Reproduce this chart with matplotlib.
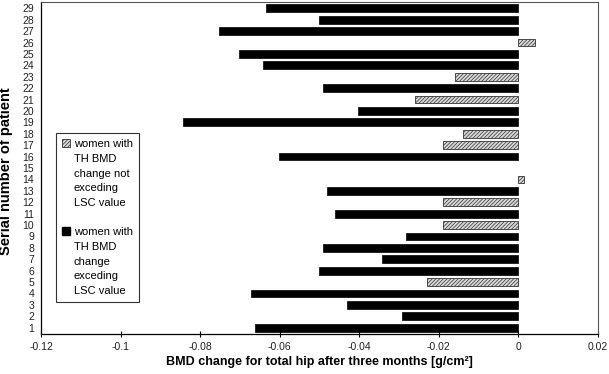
import numpy as np
import matplotlib
matplotlib.use("Agg")
import matplotlib.pyplot as plt
import matplotlib.ticker as ticker
from matplotlib.patches import Patch

plt.rcParams.update({
    'font.family': ['Liberation Sans', 'DejaVu Sans'],
    'font.size': 7,
    'hatch.linewidth': 0.5,
})

# patient numbers (1..29)
patients = list(range(1, 30))

# BMD change for total hip after three months [g/cm2], per patient (15 has no bar)
bmd_change = [-0.0663, -0.0293, -0.0432, -0.0673, -0.023, -0.0502, -0.0343, -0.0492,
              -0.0283, -0.019, -0.0462, -0.019, -0.0482, 0.0013, np.nan, -0.0602,
              -0.019, -0.014, -0.0842, -0.0403, -0.026, -0.0492, -0.016, -0.0642,
              -0.0702, 0.0042, -0.0752, -0.0502, -0.0634]

# True = change exceeds LSC value
exceeds_lsc = [True, True, True, True, False, True, True, True,
               True, False, True, False, True, False, False, True,
               False, False, True, True, False, True, False, True,
               True, False, True, True, True]

label_not = ["women with", "TH BMD", "change not", "exceding", "LSC value"]
label_exc = ["women with", "TH BMD", "change", "exceding", "LSC value"]

fig = plt.figure(figsize=(6.09, 3.74), dpi=100)
ax = fig.add_axes([41 / 609, 1 - 334 / 374, 557 / 609, 332 / 374])

vals = np.array(bmd_change, dtype=float)
exc = np.array(exceeds_lsc)
pos = np.array(patients)

ax.barh(pos[exc], vals[exc], height=0.68, color='black', edgecolor='black', linewidth=0.5)
ax.barh(pos[~exc], vals[~exc], height=0.68, color='#d8d8d8', edgecolor='#333333',
        hatch='/////////', linewidth=0.6)

ax.set_xlim(-0.12, 0.02)
ax.set_ylim(0.45, 29.55)
ax.set_xticks(np.arange(-0.12, 0.021, 0.02))
ax.xaxis.set_major_formatter(ticker.FuncFormatter(lambda x, p: f"{round(x, 2):g}" if abs(x) > 1e-9 else "0"))
ax.set_yticks(patients)
ax.set_yticklabels([str(p) for p in patients])

ax.tick_params(axis='y', length=0, pad=5, labelsize=7.5, labelcolor='#222222')
ax.tick_params(axis='x', direction='inout', length=5, width=0.8, pad=3, labelsize=7.5, labelcolor='#222222')
for s in ['top', 'right']:
    ax.spines[s].set_color('#555555')
    ax.spines[s].set_linewidth(0.8)
for s in ['left', 'bottom']:
    ax.spines[s].set_linewidth(0.9)

ax.set_xlabel("BMD change for total hip after three months [g/cm²]", fontsize=9,
              fontweight='bold', labelpad=3)
ax.set_ylabel("Serial number of patient", fontsize=10.5, fontweight='bold')
ax.yaxis.set_label_coords(-0.05, 0.49)

# legend built line by line so the marker sits on the first line
blank = Patch(facecolor='none', edgecolor='none')
hatch_h = Patch(facecolor='#d8d8d8', edgecolor='#333333', hatch='/////////', linewidth=0.6)
black_h = Patch(facecolor='black', edgecolor='black')
handles = [hatch_h] + [blank] * (len(label_not) - 1) + [blank] + [black_h] + [blank] * (len(label_exc) - 1)
labels = label_not + [""] + label_exc
leg = ax.legend(handles, labels, loc='upper left', bbox_to_anchor=(0.027, 0.605),
                borderaxespad=0, fontsize=8, handlelength=0.75, handleheight=0.75,
                handletextpad=0.3, labelspacing=0.42, borderpad=0.55,
                fancybox=False, framealpha=1, edgecolor='#333333')
leg.get_frame().set_linewidth(0.8)

fig.savefig("out.png", dpi=100)
